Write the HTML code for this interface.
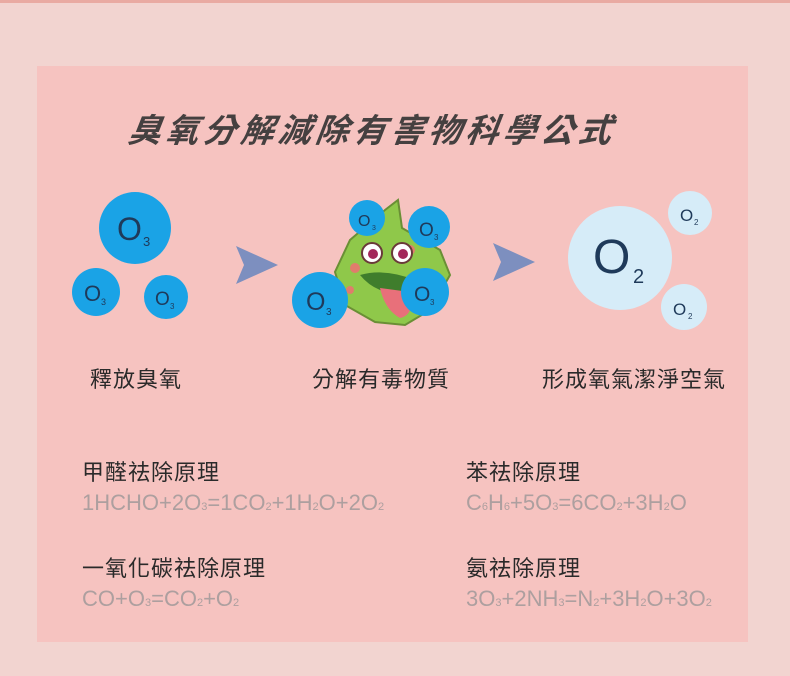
<!DOCTYPE html>
<html><head><meta charset="utf-8"><style>
body{margin:0;width:790px;height:676px;background:#f2d4d0;overflow:hidden;font-family:"Liberation Sans","Noto Sans CJK TC",sans-serif}
</style></head><body>
<svg width="790" height="676" xmlns="http://www.w3.org/2000/svg" style="position:absolute;left:0;top:0">
<rect x="0" y="0" width="790" height="3" fill="#e9aaa2"/>
<rect x="37" y="66" width="711" height="576" fill="#f6c3c0"/>
<text x="128" y="142" font-family="Liberation Sans,Noto Sans CJK TC,sans-serif" font-size="33" font-weight="bold" font-style="italic" fill="#454040" letter-spacing="4.5" transform="skewX(-8) translate(19,0)">臭氧分解減除有害物科學公式</text>
<g font-family="Liberation Sans,sans-serif" fill="#1f3a5a">
<circle cx="135" cy="228" r="36" fill="#1aa3e6"/><text x="117" y="240" font-size="32">O</text><text x="143" y="246" font-size="13">3</text>
<circle cx="96" cy="292" r="24" fill="#1aa3e6"/><text x="84" y="301" font-size="22">O</text><text x="101" y="305" font-size="9">3</text>
<circle cx="166" cy="297" r="22" fill="#1aa3e6"/><text x="155" y="305" font-size="19">O</text><text x="170" y="309" font-size="8">3</text>
<polygon points="236,246 278,265 236,284 244,265" fill="#7d8fbf"/>
<polygon points="493,243 535,262 493,281 501,262" fill="#7d8fbf"/>
<polygon points="385,210 398,200 402,228 440,250 450,275 430,310 405,325 375,322 345,305 335,272 350,240" fill="#8fc84a" stroke="#6a8f35" stroke-width="2"/>
<circle cx="355" cy="268" r="5" fill="#e07d6c"/><circle cx="410" cy="250" r="5" fill="#e07d6c"/><circle cx="350" cy="290" r="4" fill="#e07d6c"/>
<circle cx="372" cy="253" r="10" fill="#fff" stroke="#6a3a3a" stroke-width="2"/><circle cx="373" cy="254" r="5" fill="#a3275a"/>
<circle cx="402" cy="253" r="10" fill="#fff" stroke="#6a3a3a" stroke-width="2"/><circle cx="403" cy="254" r="5" fill="#a3275a"/>
<path d="M360 275 Q385 268 415 280 Q400 300 380 290 Q368 285 360 275Z" fill="#3f7d2c"/>
<path d="M380 288 Q385 310 400 318 Q415 315 410 292Z" fill="#e8707a"/>
<circle cx="367" cy="218" r="18" fill="#1aa3e6"/><text x="358" y="226" font-size="16">O</text><text x="372" y="230" font-size="7">3</text>
<circle cx="429" cy="227" r="21" fill="#1aa3e6"/><text x="419" y="236" font-size="19">O</text><text x="434" y="240" font-size="8">3</text>
<circle cx="320" cy="300" r="28" fill="#1aa3e6"/><text x="306" y="310" font-size="25">O</text><text x="326" y="315" font-size="10">3</text>
<circle cx="425" cy="292" r="24" fill="#1aa3e6"/><text x="414" y="301" font-size="21">O</text><text x="430" y="305" font-size="8">3</text>
<circle cx="620" cy="258" r="52" fill="#d6ecf8"/><text x="593" y="273" font-size="48">O</text><text x="633" y="283" font-size="20">2</text>
<circle cx="690" cy="213" r="22" fill="#d6ecf8"/><text x="680" y="221" font-size="17">O</text><text x="694" y="225" font-size="8">2</text>
<circle cx="684" cy="307" r="23" fill="#d6ecf8"/><text x="673" y="315" font-size="17">O</text><text x="688" y="319" font-size="8">2</text>
</g>
<g font-family="Liberation Sans,Noto Sans CJK TC,sans-serif" font-size="22" fill="#2a2a2a" letter-spacing="1">
<text x="90" y="387">釋放臭氧</text>
<text x="312" y="387">分解有毒物質</text>
<text x="542" y="387">形成氧氣潔淨空氣</text>
<text x="82" y="480">甲醛祛除原理</text>
<text x="466" y="480">苯祛除原理</text>
<text x="82" y="576">一氧化碳祛除原理</text>
<text x="466" y="576">氨祛除原理</text>
</g>
<g font-family="Liberation Sans,sans-serif" font-size="22" fill="#ad9f9f">
<text x="82" y="510">1HCHO+2O<tspan font-size="11">3</tspan>=1CO<tspan font-size="11">2</tspan>+1H<tspan font-size="11">2</tspan>O+2O<tspan font-size="11">2</tspan></text>
<text x="466" y="510">C<tspan font-size="11">6</tspan>H<tspan font-size="11">6</tspan>+5O<tspan font-size="11">3</tspan>=6CO<tspan font-size="11">2</tspan>+3H<tspan font-size="11">2</tspan>O</text>
<text x="82" y="606">CO+O<tspan font-size="11">3</tspan>=CO<tspan font-size="11">2</tspan>+O<tspan font-size="11">2</tspan></text>
<text x="466" y="606">3O<tspan font-size="11">3</tspan>+2NH<tspan font-size="11">3</tspan>=N<tspan font-size="11">2</tspan>+3H<tspan font-size="11">2</tspan>O+3O<tspan font-size="11">2</tspan></text>
</g>
</svg>
</body></html>
